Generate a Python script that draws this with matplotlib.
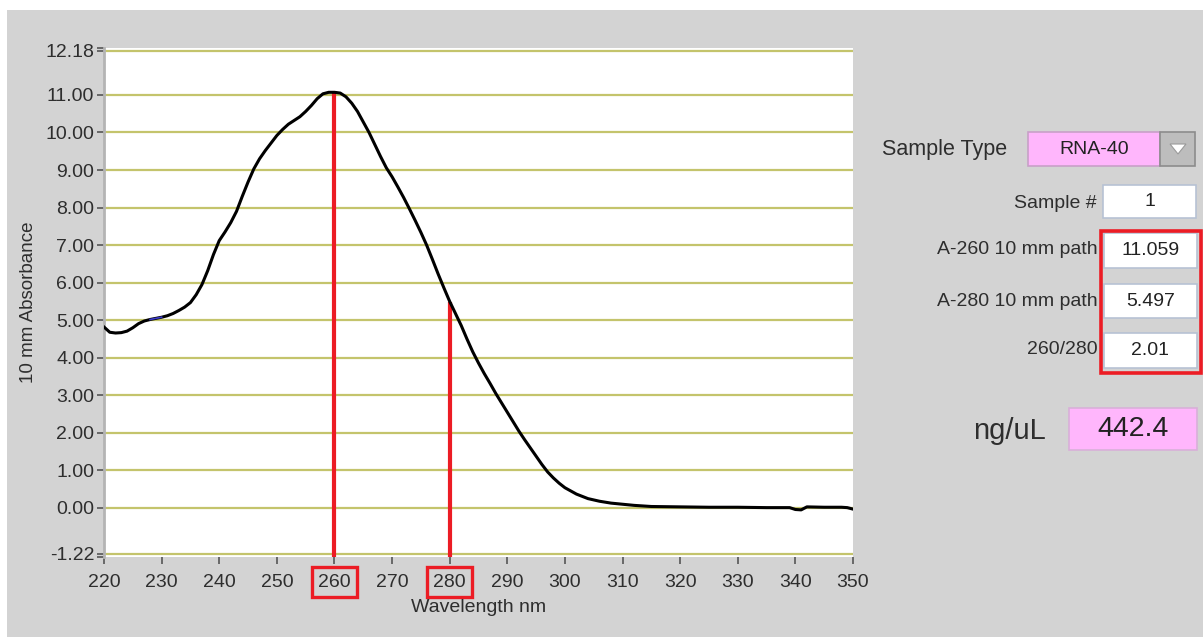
import matplotlib
matplotlib.use("Agg")
import matplotlib.pyplot as plt
from matplotlib.patches import Rectangle, Polygon
import numpy as np

# Canvas size in pixels (saved at dpi=100)
W, H = 1203, 637

# Spectrum
wavelength = [
    220, 221, 222, 223, 224, 225, 226, 227, 228, 229,
    230, 231, 232, 233, 234, 235, 236, 237, 238, 239,
    240, 241, 242, 243, 244, 245, 246, 247, 248, 249,
    250, 251, 252, 253, 254, 255, 256, 257, 258, 259,
    260, 261, 262, 263, 264, 265, 266, 267, 268, 269,
    270, 271, 272, 273, 274, 275, 276, 277, 278, 279,
    280, 281, 282, 283, 284, 285, 286, 287, 288, 289,
    290, 291, 292, 293, 294, 295, 296, 297, 298, 299,
    300, 302, 304, 306, 308, 310, 312, 315, 320, 325,
    330, 335, 339, 340, 341, 342, 345, 348, 349, 350,
]
absorbance = [
    4.82, 4.68, 4.66, 4.67, 4.71, 4.80, 4.91, 4.98, 5.02, 5.05,
    5.08, 5.12, 5.18, 5.26, 5.35, 5.47, 5.68, 5.95, 6.32, 6.75,
    7.12, 7.35, 7.60, 7.90, 8.30, 8.68, 9.03, 9.30, 9.52, 9.72,
    9.92, 10.08, 10.22, 10.32, 10.42, 10.56, 10.72, 10.90, 11.03, 11.07,
    11.07, 11.05, 10.95, 10.78, 10.56, 10.28, 10.00, 9.68, 9.36, 9.06,
    8.82, 8.55, 8.27, 7.97, 7.66, 7.34, 7.00, 6.62, 6.23, 5.86,
    5.50, 5.18, 4.86, 4.50, 4.16, 3.86, 3.58, 3.32, 3.05, 2.80,
    2.55, 2.30, 2.05, 1.82, 1.60, 1.38, 1.16, 0.96, 0.80, 0.66,
    0.54, 0.37, 0.25, 0.18, 0.13, 0.10, 0.07, 0.04, 0.03, 0.02,
    0.02, 0.01, 0.01, -0.04, -0.05, 0.03, 0.02, 0.02, 0.01, -0.03,
]

# Readouts shown in the side panel
a260 = 11.059
a280 = 5.497
a260_label = "11.059"
a280_label = "5.497"
ratio_label = "2.01"
conc_label = "442.4"
sample_type = "RNA-40"
sample_num = "1"

x_ticks = list(range(220, 351, 10))
y_ticks = [-1.22, 0, 1, 2, 3, 4, 5, 6, 7, 8, 9, 10, 11, 12.18]
y_tick_labels = ["-1.22", "0.00", "1.00", "2.00", "3.00", "4.00", "5.00",
                 "6.00", "7.00", "8.00", "9.00", "10.00", "11.00", "12.18"]

PANEL_GRAY = "#d3d3d3"
GRID_COLOR = "#c4c46c"
RED = "#ec1c24"
PINK = "#ffb6fc"
TEXT = "#2e2e2e"
FONT = "Liberation Sans"

plt.rcParams["font.family"] = [FONT, "DejaVu Sans"]

fig = plt.figure(figsize=(W / 100, H / 100), dpi=100, facecolor="white")

# Gray instrument panel (white strip along top/left edge)
fig.patches.append(Rectangle((7 / W, 0), 1 - 7 / W, 1 - 10 / H,
                             transform=fig.transFigure, facecolor=PANEL_GRAY,
                             edgecolor="none", zorder=-10))

# Main spectrum axes
ax = fig.add_axes([104 / W, 1 - 557 / H, (853 - 104) / W, (557 - 48) / H])
ax.set_facecolor("white")
ax.set_xlim(220, 350)
ax.set_ylim(-1.305, 12.25)

ax.set_yticks(y_ticks, y_tick_labels)
ax.set_xticks(x_ticks, [str(t) for t in x_ticks])
ax.set_yticks([12.25, -1.30], minor=True)
ax.tick_params(axis="both", which="both", direction="out", length=5, width=1.2,
               color="#555555", labelcolor=TEXT, labelsize=14)
ax.tick_params(axis="y", pad=2)
ax.tick_params(axis="x", pad=7)
ax.tick_params(axis="y", which="minor", length=5)

for side in ("top", "right", "bottom"):
    ax.spines[side].set_visible(False)
ax.spines["left"].set_color("#b4b4b4")
ax.spines["left"].set_linewidth(2)

ax.grid(axis="y", color=GRID_COLOR, linewidth=1.6)
ax.set_axisbelow(True)

ax.set_xlabel("Wavelength nm", fontsize=14, color=TEXT, labelpad=6)
ax.set_ylabel("10 mm Absorbance", fontsize=13.5, color=TEXT, labelpad=6)

# Spectrum trace
wl = np.array(wavelength)
ab = np.array(absorbance)
ax.plot(wl, ab, color="black", linewidth=2.2, zorder=3)
cursor = (wl >= 228) & (wl <= 230)
ax.plot(wl[cursor], ab[cursor], color="#3a3acc", linewidth=1.2, zorder=4)

# Red markers at 260 / 280 nm
y_bottom = ax.get_ylim()[0]
ax.plot([260, 260], [a260, y_bottom], color=RED, linewidth=3, zorder=2,
        solid_capstyle="butt")
ax.plot([280, 280], [a280, y_bottom], color=RED, linewidth=3, zorder=2,
        solid_capstyle="butt")

for lbl in ax.get_xticklabels():
    if lbl.get_text() in ("260", "280"):
        lbl.set_bbox(dict(boxstyle="square,pad=0.32", facecolor="none",
                          edgecolor=RED, linewidth=2.4))

# Side panel drawn in pixel coordinates
ui = fig.add_axes([0, 0, 1, 1])
ui.set_zorder(5)
ui.patch.set_alpha(0)
ui.set_xlim(0, W)
ui.set_ylim(H, 0)
ui.axis("off")


def field(x0, y0, x1, y1, text, face="white", size=14, edge="#b7c2d4"):
    ui.add_patch(Rectangle((x0, y0), x1 - x0, y1 - y0, facecolor=face,
                           edgecolor=edge, linewidth=1.2))
    ui.text((x0 + x1) / 2, (y0 + y1) / 2, text, ha="center", va="center",
            fontsize=size, color="#222222")


def label(x, y, text, size=14):
    ui.text(x, y, text, ha="right", va="center", fontsize=size, color=TEXT)


label(1007, 150, "Sample Type", size=15.5)
field(1028, 132, 1160, 166, sample_type, face=PINK, edge="#c8a0c8")
ui.add_patch(Rectangle((1160, 132), 35, 34, facecolor="#bdbdbd",
                       edgecolor="#8c8c8c", linewidth=1.2))
ui.add_patch(Polygon([(1170, 144), (1186, 144), (1178, 154)], closed=True,
                     facecolor="white", edgecolor="#9a9a9a", linewidth=0.8))

label(1097, 203, "Sample #")
field(1103, 185, 1196, 218, sample_num)

label(1098, 250, "A-260 10 mm path")
field(1104, 233, 1197, 268, a260_label)
label(1098, 301, "A-280 10 mm path")
field(1104, 284, 1197, 318, a280_label)
label(1098, 350, "260/280")
field(1104, 333, 1197, 368, ratio_label)
ui.add_patch(Rectangle((1101, 231), 100, 142, facecolor="none",
                       edgecolor=RED, linewidth=2.6))

label(1046, 431, "ng/uL", size=21)
field(1069, 408, 1197, 450, conc_label, face=PINK, size=20.5, edge="#d8b0d8")

fig.savefig("out.png", dpi=100, facecolor=fig.get_facecolor())
